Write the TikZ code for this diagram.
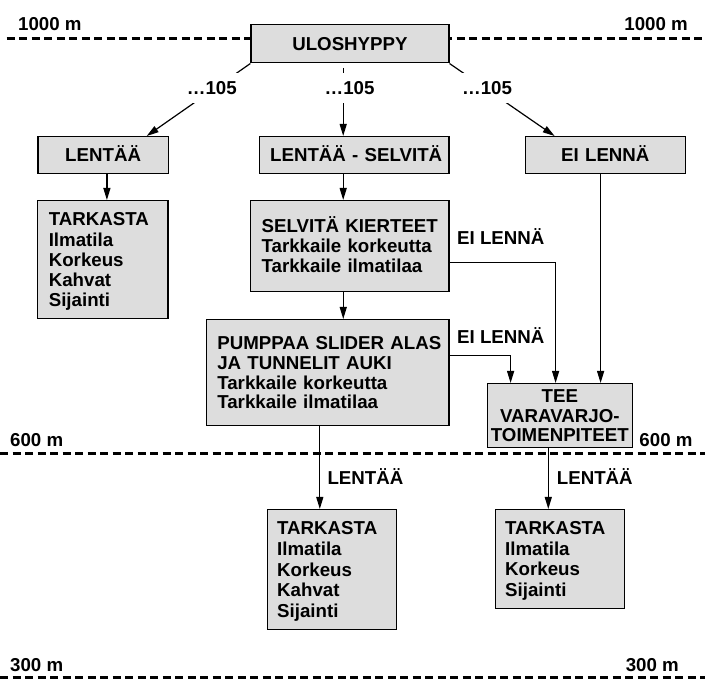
\documentclass[tikz,border=0pt]{standalone}
\usepackage{fontspec}
\setmainfont{Liberation Sans}
\usetikzlibrary{arrows.meta}
\definecolor{boxfill}{RGB}{221,221,221}
\begin{document}
\begin{tikzpicture}[x=1pt,y=-1pt,
  fs/.style={font=\fontsize{18.7}{#1}\selectfont\bfseries},
  fs/.default=20,
  box/.style={draw, fill=boxfill, line width=1.2pt, inner xsep=11pt, inner ysep=0pt,
    text height=13.2pt, text depth=0pt, anchor=north west, fs},
  cbox/.style={box, align=center},
  lbox/.style={box, align=left},
  arr/.style={-{Triangle[length=12pt,width=7pt]}, line width=1.2pt},
  level/.style={line width=3pt, dash pattern=on 8pt off 4.5pt},
  lbl/.style={inner sep=0pt, anchor=base west, fs},
  num/.style={fill=white, inner xsep=1pt, inner ysep=0pt, text height=13pt,
    text depth=0pt, minimum height=30pt, fs}
]
\useasboundingbox (0,0) rectangle (705,684);

% altitude levels
\draw[level] (6.7,38.3) -- (705,38.3);
\draw[level] (0,453.3) -- (705,453.3);
\draw[level] (0,677.3) -- (705,677.3);

\node[lbl] (k1000l) at (18,31) {1000 m};
\node[lbl, anchor=base east] (k1000r) at (688,31) {1000 m};
\node[lbl] (k600l) at (10,446.7) {600 m};
\node[lbl, anchor=base east] (k600r) at (692.7,447) {600 m};
\node[lbl] (k300l) at (10,671.7) {300 m};
\node[lbl, anchor=base east] (k300r) at (679,671.7) {300 m};

% boxes
\node[cbox, text width=175.9pt, minimum width=197.9pt, minimum height=38pt] (ulo) at (250.4,24.3) {ULOSHYPPY};
\node[cbox, text width=108.4pt, minimum width=130.4pt, minimum height=36.7pt] (l1) at (37.3,136) {LENTÄÄ};
\node[cbox, text width=167.8pt, minimum width=189.8pt, minimum height=36.7pt] (l2) at (258.5,136) {\mbox{LENTÄÄ - SELVITÄ}};
\node[cbox, text width=138.1pt, minimum width=160.1pt, minimum height=36.7pt] (l3) at (524.7,136) {EI LENNÄ};

\node[lbox, fs=20.2, text width=107.6pt, inner xsep=11.5pt, minimum width=130.6pt, minimum height=118.3pt, text depth=80.8pt] (t1) at (36.7,200)
  {TARKASTA\\Ilmatila\\Korkeus\\Kahvat\\Sijainti};
\node[lbox, fs=19.9, text width=176.3pt, minimum width=198.3pt, minimum height=91pt, text depth=39.8pt] (s) at (250,200)
  {\mbox{SELVITÄ KIERTEET}\\\mbox{Tarkkaile korkeutta}\\\mbox{Tarkkaile ilmatilaa}};
\node[lbox, fs=19.8, text width=220.6pt, minimum width=242.6pt, minimum height=106pt, text depth=59.4pt] (p) at (205.7,319)
  {\mbox{PUMPPAA SLIDER ALAS}\\\mbox{JA TUNNELIT AUKI}\\\mbox{Tarkkaile korkeutta}\\\mbox{Tarkkaile ilmatilaa}};
\node[cbox, fs=19.9, inner xsep=2pt, text width=141pt, minimum width=145pt, minimum height=63.7pt, text depth=39.8pt] (tee) at (486.7,383)
  {TEE\\\mbox{VARAVARJO-}\\\mbox{TOIMENPITEET}};
\node[lbox, fs=20.7, inner xsep=10pt, text width=109.1pt, minimum width=129.1pt, minimum height=120pt, text depth=82.8pt] (b1) at (266.6,509)
  {TARKASTA\\Ilmatila\\Korkeus\\Kahvat\\Sijainti};
\node[lbox, fs=20.6, inner xsep=10pt, text width=109.1pt, minimum width=129.1pt, minimum height=99pt, text depth=61.8pt] (b2) at (494.6,509)
  {TARKASTA\\Ilmatila\\Korkeus\\Sijainti};

% connectors
\draw[arr] (ulo.south west) -- ([xshift=43.6pt]l1.north);
\draw[arr, shorten <=4.4pt] ([xshift=-6.75pt]ulo.south) -- ([xshift=-10.8pt]l2.north);
\draw[arr] (ulo.south east) -- ([xshift=-50.75pt]l3.north);
\node[num] (n1) at (211.8,87.7) {…105};
\node[num] (n2) at (349.5,87.7) {…105};
\node[num] (n3) at (487,87.7) {…105};

\draw[arr] ([xshift=3.8pt]l1.south) -- ([xshift=3.8pt]l1.south |- t1.north);
\draw[arr] ([xshift=-10.8pt]l2.south) -- ([xshift=-10.8pt]l2.south |- s.north);
\draw[arr] ([xshift=-6.5pt]s.south) -- ([xshift=-6.5pt]s.south |- p.north);
\draw[arr] ([yshift=-16.8pt]s.east) -| ([xshift=-4.2pt]tee.north);
\draw[arr] ([yshift=17pt]p.east) -| ([xshift=-49.2pt]tee.north);
\draw[arr] ([xshift=-4.75pt]l3.south) -- ([xshift=-4.75pt]l3.south |- tee.north);
\draw[arr] ([xshift=-7.8pt]p.south) -- ([xshift=-7.8pt]p.south |- b1.north);
\draw[arr] ([xshift=-11.5pt]tee.south) -- ([xshift=-11.5pt]tee.south |- b2.north);

\node[lbl] (e1) at (457,245) {EI LENNÄ};
\node[lbl] (e2) at (457,344) {EI LENNÄ};
\node[lbl] (f1) at (327.3,484.3) {LENTÄÄ};
\node[lbl] (f2) at (556.7,484.3) {LENTÄÄ};
\end{tikzpicture}
\end{document}
